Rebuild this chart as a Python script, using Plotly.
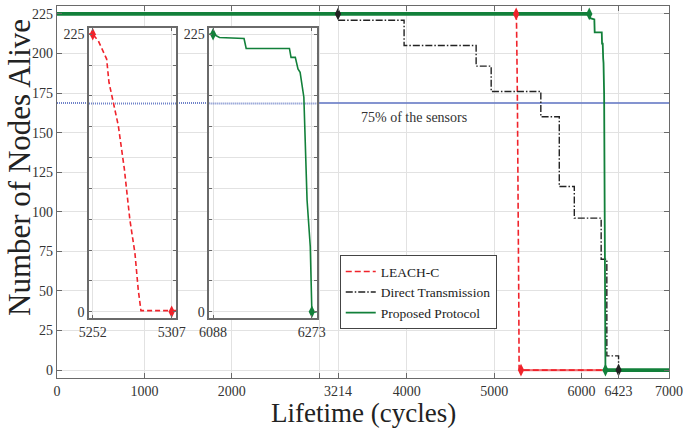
import plotly.graph_objects as go

# ---------------- data ----------------
N_SENSORS = 225
x_tick_vals = [0, 1000, 2000, 3000, 3214, 4000, 5000, 6000, 6423, 7000]
x_tick_text = ['0', '1000', '2000', '', '3214', '4000', '5000', '6000', '6423', '7000']
y_tick_vals = [0, 25, 50, 75, 100, 125, 150, 175, 200, 225]

series_names = ['LEACH-C', 'Direct Transmission', 'Proposed Protocol']

leach_x = [0, 5252, 5255.9, 5261.7, 5263.3, 5266.3, 5269.8, 5274, 5277.9, 5281.4, 5283.7, 5285.6, 5307, 7000]
leach_y = [225, 225, 219.6, 204.8, 186, 168.5, 151, 116, 74.4, 47.6, 18, 1, 0, 0]

direct_x = [0, 3214, 3970, 4794, 4966, 5534, 5745, 5917, 6224, 6289, 6423, 7000]
direct_y = [225, 221, 205, 192, 176, 160, 116, 96, 70, 9, 0, 0]

proposed_x = [0, 6088, 6100, 6146, 6150, 6231, 6234, 6242, 6247, 6251, 6258, 6264, 6270, 6273, 7000]
proposed_y = [225, 225, 222.3, 221.5, 213.4, 213.4, 206.2, 206.2, 196.8, 194.1, 173.9, 90.6, 53, 0, 0]

# first node dead / last node dead (cycles)
fnd = [5252, 3214, 6088]
lnd = [5307, 6423, 6273]

inset1_ticks = [5252, 5307]
inset2_ticks = [6088, 6273]

# ---------------- style ----------------
RED = '#f0232b'
BLACK = '#222222'
GREEN = '#12803a'
BLUE = '#6f82c8'
FONT = 'Liberation Serif'
AX = '#6a6a6a'
GRID = '#e2e2e2'

X_MAX = 7000
Y_RANGE = [-5, 230]
ins1_range = [5249.4, 5310]
ins2_range = [6081, 6282]
ins1_dom_x = [0.0523, 0.1944]
ins2_dom_x = [0.2489, 0.4243]
ins_dom_y = [0.1613, 0.9409]

fig = go.Figure()

# 75% reference line (dotted across insets, solid afterwards)
thr = 0.75 * N_SENSORS
x_split = X_MAX * ins2_dom_x[1]
fig.add_trace(go.Scatter(x=[0, x_split], y=[thr, thr], mode='lines',
                         line=dict(color=BLUE, width=2, dash='1px,1px'),
                         showlegend=False, hoverinfo='skip'))
fig.add_trace(go.Scatter(x=[x_split, X_MAX], y=[thr, thr], mode='lines',
                         line=dict(color=BLUE, width=2), opacity=0.85,
                         showlegend=False, hoverinfo='skip'))

# main series
fig.add_trace(go.Scatter(x=leach_x, y=leach_y, mode='lines', name=series_names[0],
                         line=dict(color=RED, width=1.6, dash='6px,3px')))
fig.add_trace(go.Scatter(x=[lnd[0], X_MAX], y=[0, 0], mode='lines', showlegend=False,
                         line=dict(color=RED, width=2.2), opacity=0.6))
fig.add_trace(go.Scatter(x=direct_x, y=direct_y, mode='lines', name=series_names[1],
                         line=dict(color=BLACK, width=1.4, dash='7px,2px,1.5px,2px', shape='hv')))
fig.add_trace(go.Scatter(x=proposed_x, y=proposed_y, mode='lines', name=series_names[2],
                         line=dict(color=GREEN, width=1.8)))
fig.add_trace(go.Scatter(x=[0, fnd[2]], y=[N_SENSORS, N_SENSORS], mode='lines', showlegend=False,
                         line=dict(color=GREEN, width=3.6)))
fig.add_trace(go.Scatter(x=[lnd[2], X_MAX], y=[0, 0], mode='lines', showlegend=False,
                         line=dict(color=GREEN, width=3.6)))

colors = [RED, BLACK, GREEN]
for i in range(3):
    fig.add_trace(go.Scatter(x=[fnd[i], lnd[i]], y=[N_SENSORS, 0], mode='markers', showlegend=False,
                             marker=dict(symbol='diamond-tall', size=9, color=colors[i])))

# inset traces
for xa, ya, rng in (('x2', 'y2', ins1_range), ('x3', 'y3', ins2_range)):
    fig.add_trace(go.Scatter(x=rng, y=[thr, thr], mode='lines', xaxis=xa, yaxis=ya, showlegend=False,
                             line=dict(color=BLUE, width=2, dash='1px,1px'), hoverinfo='skip'))

fig.add_trace(go.Scatter(x=leach_x, y=leach_y, mode='lines', xaxis='x2', yaxis='y2', showlegend=False,
                         line=dict(color=RED, width=1.6, dash='5px,3px')))
fig.add_trace(go.Scatter(x=[fnd[0], lnd[0]], y=[N_SENSORS, 0], mode='markers', xaxis='x2', yaxis='y2',
                         showlegend=False, marker=dict(symbol='diamond-tall', size=9, color=RED)))
fig.add_trace(go.Scatter(x=proposed_x, y=proposed_y, mode='lines', xaxis='x3', yaxis='y3', showlegend=False,
                         line=dict(color=GREEN, width=1.6)))
fig.add_trace(go.Scatter(x=[fnd[2], lnd[2]], y=[N_SENSORS, 0], mode='markers', xaxis='x3', yaxis='y3',
                         showlegend=False, marker=dict(symbol='diamond-tall', size=9, color=GREEN)))

tickfont = dict(family=FONT, size=14, color='#333333')
common = dict(showline=True, linecolor=AX, linewidth=1.2, mirror='ticks', ticks='inside',
              tickcolor=AX, showgrid=True, gridcolor=GRID, gridwidth=1, zeroline=False,
              tickfont=tickfont)
inset_common = {**common, 'linewidth': 1.5}

ins_y_text = [str(v) if v in (0, N_SENSORS) else '' for v in y_tick_vals]

fig.update_layout(
    width=683, height=434,
    margin=dict(l=57, r=14, t=6, b=56),
    plot_bgcolor='white', paper_bgcolor='white',
    xaxis=dict(range=[0, X_MAX], tickvals=x_tick_vals, ticktext=x_tick_text, ticklen=5,
               automargin=False, **common),
    yaxis=dict(range=Y_RANGE, tickvals=y_tick_vals, ticklen=5, automargin=False, **common),
    xaxis2=dict(domain=ins1_dom_x, anchor='y2', range=ins1_range, tickvals=inset1_ticks, ticklen=3,
                automargin=False, **inset_common),
    yaxis2=dict(domain=ins_dom_y, anchor='x2', range=Y_RANGE, tickvals=y_tick_vals, ticktext=ins_y_text,
                ticklen=3, automargin=False, **inset_common),
    xaxis3=dict(domain=ins2_dom_x, anchor='y3', range=ins2_range, tickvals=inset2_ticks, ticklen=3,
                automargin=False, **inset_common),
    yaxis3=dict(domain=ins_dom_y, anchor='x3', range=Y_RANGE, tickvals=y_tick_vals, ticktext=ins_y_text,
                ticklen=3, automargin=False, **inset_common),
    legend=dict(x=0.462, y=0.33, xanchor='left', yanchor='top', bgcolor='white',
                bordercolor='#444444', borderwidth=1, font=dict(family=FONT, size=13.5, color='#222222'),
                itemwidth=30, tracegroupgap=0),
    annotations=[
        dict(text='Lifetime (cycles)', xref='paper', yref='paper', x=0.5, y=-0.094,
             xanchor='center', yanchor='middle', showarrow=False,
             font=dict(family=FONT, size=27, color='#222222')),
        dict(text='Number of Nodes Alive', xref='paper', yref='paper', x=-0.0622, y=0.567,
             xanchor='center', yanchor='middle', showarrow=False, textangle=-90,
             font=dict(family=FONT, size=31, color='#222222')),
        dict(text='75% of the sensors', xref='x', yref='y', x=4085, y=159.5,
             xanchor='center', yanchor='middle', showarrow=False,
             font=dict(family=FONT, size=14, color='#333333')),
    ],
)

fig.write_html('out.html', config={'displayModeBar': False},
               post_script="document.body.style.margin='0';")
